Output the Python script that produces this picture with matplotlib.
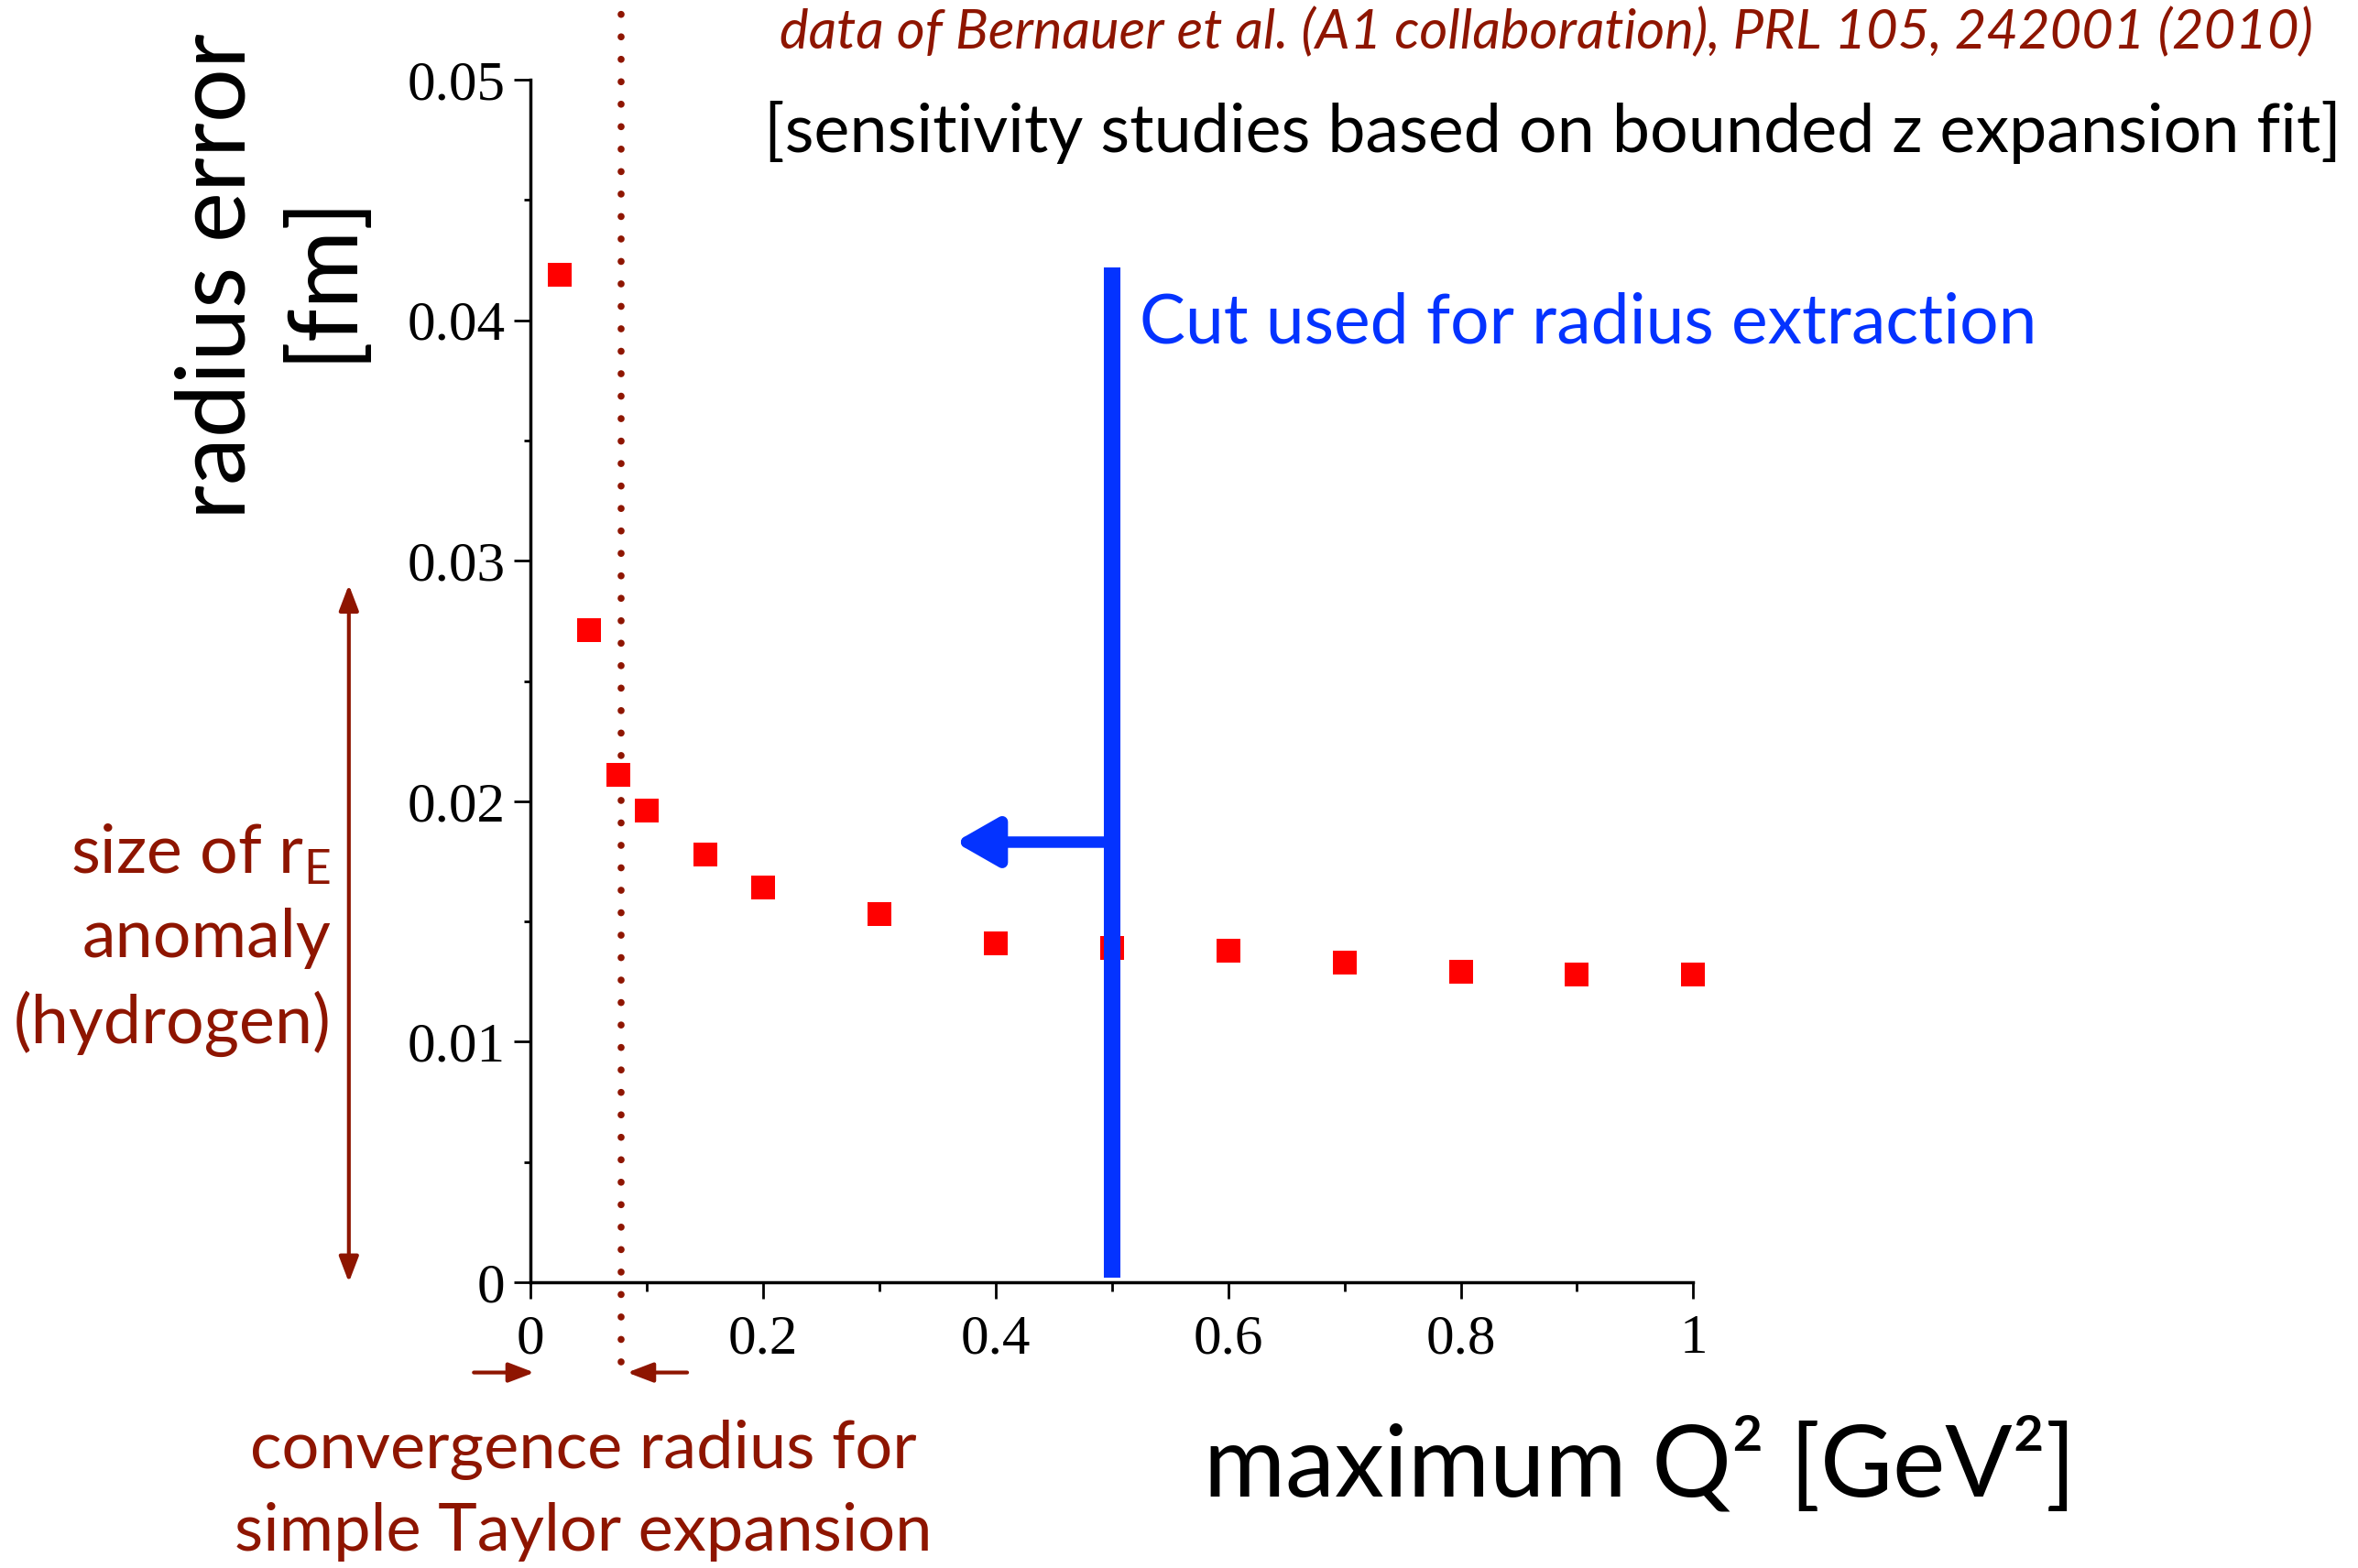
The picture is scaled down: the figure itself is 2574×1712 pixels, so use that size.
import numpy as np
import matplotlib
matplotlib.use('Agg')
import matplotlib.pyplot as plt
from matplotlib.ticker import MultipleLocator

plt.rcParams['font.family'] = ['Lato', 'DejaVu Sans']
plt.rcParams['mathtext.fontset'] = 'custom'
plt.rcParams['mathtext.rm'] = 'Lato'

# radius error vs. upper Q^2 cut of the fit
q2_max = [0.025, 0.05, 0.075, 0.1, 0.15, 0.2, 0.3, 0.4, 0.5, 0.6, 0.7, 0.8, 0.9, 1.0]
radius_err = [0.0419, 0.0271, 0.0211, 0.0196, 0.0178, 0.0164, 0.0153, 0.0141,
              0.0139, 0.0138, 0.0133, 0.0129, 0.0128, 0.0128]

q2_cut = 0.5            # cut used for the radius
q2_conv = 0.078         # 4 m_pi^2, convergence radius of Taylor series
anomaly_size = 0.029    # size of r_E anomaly

xticks = [0, 0.2, 0.4, 0.6, 0.8, 1]
xticklabels = ['0', '0.2', '0.4', '0.6', '0.8', '1']
yticks = [0, 0.01, 0.02, 0.03, 0.04, 0.05]
yticklabels = ['0', '0.01', '0.02', '0.03', '0.04', '0.05']

darkred = '#8E1500'
blue = '#0433FF'

fig = plt.figure(figsize=(25.74, 17.12), dpi=100)
ax = fig.add_axes([0.2251, 0.1822, 0.4930, 0.7670])

ax.plot(q2_max, radius_err, 's', color='#FF0000', ms=19, mew=0, clip_on=False, zorder=3)

# dotted convergence line, running past the axes
ax.plot([q2_conv, q2_conv], [-0.0033, 0.0535], color=darkred, lw=5.5,
        ls=(0, (0.01, 3.2)), dash_capstyle='round', clip_on=False, zorder=2)

# cut line and arrow
ax.plot([q2_cut, q2_cut], [0.0002, 0.0422], color=blue, lw=13, solid_capstyle='butt', zorder=4)
ax.annotate('', xy=(0.365, 0.0183), xytext=(0.494, 0.0183),
            arrowprops=dict(arrowstyle='-|>,head_length=2.8,head_width=1.6',
                            color=blue, lw=9, shrinkA=0, shrinkB=0))
fig.text(0.4834, 0.7938, 'Cut used for radius extraction', color=blue,
         fontsize=54, ha='left', va='center')

arrow_small = dict(arrowstyle='-|>,head_length=1.7,head_width=0.65',
                   color=darkred, lw=3, shrinkA=0, shrinkB=0)

# anomaly size double arrow
ax.annotate('', xy=(-0.1565, anomaly_size), xytext=(-0.1565, 0.0),
            annotation_clip=False,
            arrowprops=dict(arrow_small, arrowstyle='<|-|>,head_length=1.7,head_width=0.65'))
fig.text(0.1403, 0.4007, 'size of r$_\\mathregular{E}$\nanomaly\n(hydrogen)', color=darkred,
         fontsize=53, ha='right', va='center', multialignment='right', linespacing=1.42)

# convergence radius arrows
ax.annotate('', xy=(0.003, -0.00375), xytext=(-0.049, -0.00375), annotation_clip=False,
            arrowprops=arrow_small)
ax.annotate('', xy=(0.083, -0.00375), xytext=(0.1345, -0.00375), annotation_clip=False,
            arrowprops=arrow_small)
fig.text(0.2475, 0.0494, 'convergence radius for\nsimple Taylor expansion', color=darkred,
         fontsize=52, ha='center', va='center', linespacing=1.45)

# headers
fig.text(0.981, 0.979, 'data of Bernauer et al. (A1 collaboration), PRL 105, 242001 (2010)',
         color=darkred, style='italic', fontsize=43, ha='right', va='center')
fig.text(0.324, 0.9156, '[sensitivity studies based on bounded z expansion fit]',
         color='black', fontsize=53, ha='left', va='center')

# axis titles
fig.text(0.1146, 0.8236, 'radius error\n[fm]', rotation=90, fontsize=75,
         ha='center', va='center', multialignment='center', linespacing=1.22)
fig.text(0.6954, 0.0654, 'maximum Q² [GeV²]', fontsize=78, ha='center', va='center')

ax.set_xlim(0, 1)
ax.set_ylim(0, 0.05)
ax.set_xticks(xticks)
ax.set_xticklabels(xticklabels)
ax.set_yticks(yticks)
ax.set_yticklabels(yticklabels)
ax.xaxis.set_minor_locator(MultipleLocator(0.1))
ax.yaxis.set_minor_locator(MultipleLocator(0.005))
for lab in ax.get_xticklabels() + ax.get_yticklabels():
    lab.set_fontfamily('Liberation Serif')
ax.tick_params(axis='both', which='major', labelsize=44, width=2, length=13, direction='out')
ax.tick_params(axis='x', which='major', pad=12)
ax.tick_params(axis='y', which='major', pad=7)
ax.tick_params(axis='x', which='minor', width=2, length=7)
ax.tick_params(axis='y', which='minor', width=2, length=5)
ax.spines['top'].set_visible(False)
ax.spines['right'].set_visible(False)
ax.spines['left'].set_linewidth(2.5)
ax.spines['bottom'].set_linewidth(2.5)
ax.patch.set_alpha(0)

fig.savefig('out.png', dpi=100)
